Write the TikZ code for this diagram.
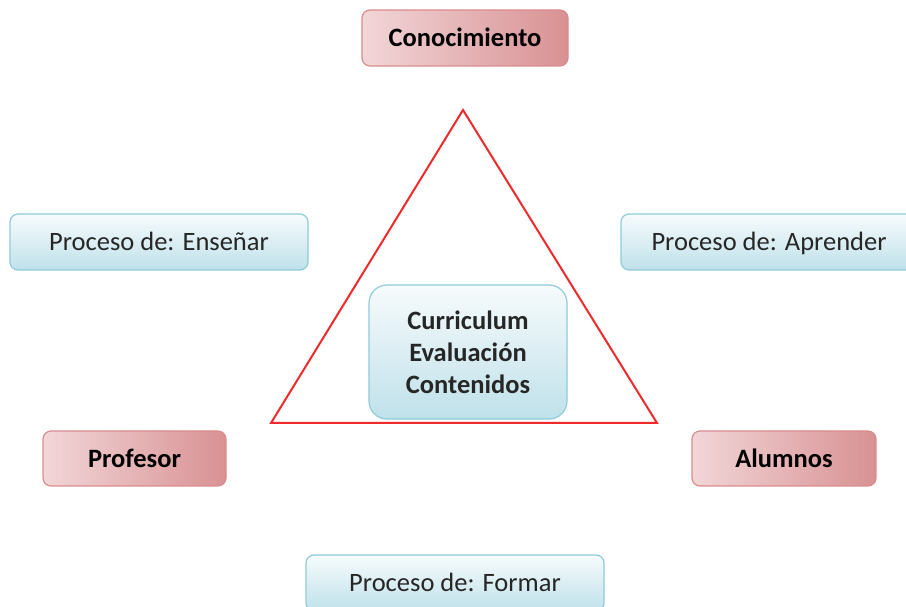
\documentclass[tikz,border=0pt]{standalone}
\usepackage{fontspec}
\setmainfont{Carlito}
\definecolor{redA}{HTML}{F2D6D8}
\definecolor{redB}{HTML}{D89193}
\definecolor{redE}{HTML}{D98C8E}
\definecolor{bluA}{HTML}{F7FBFC}
\definecolor{bluB}{HTML}{BFE1EA}
\definecolor{bluE}{HTML}{8ECBDB}
\definecolor{triR}{HTML}{EE2A2A}
\begin{document}
\begin{tikzpicture}[x=1pt,y=1pt,
  redbox/.style={draw=redE, line width=1.2pt, rounded corners=8pt, left color=redA, right color=redB, inner sep=0pt, text height=19.5pt, text depth=2pt, font=\fontsize{26.5}{31}\selectfont\bfseries, text=black},
  blubox/.style={draw=bluE, line width=1.2pt, rounded corners=8pt, top color=bluA, bottom color=bluB, inner sep=0pt, text height=19.5pt, text depth=2pt, font=\fontsize{26.5}{31}\selectfont, text=black!85},
  tri/.style={draw=triR, line width=2pt, line join=miter}]
\useasboundingbox (0,0) rectangle (906,606);
\clip (0,0) rectangle (906,606);
% red boxes
\node[redbox, minimum width=206pt, minimum height=56pt] (con) at (465,568) {Conocimiento};
\node[redbox, minimum width=183pt, minimum height=55pt] (prof) at (134.5,147.5) {Profesor};
\node[redbox, minimum width=184pt, minimum height=55pt] (alum) at (784,147.5) {Alumnos};
% blue boxes
\node[blubox, minimum width=298pt, minimum height=56pt] (ens) at (159,364) {Proceso de: Enseñar};
\node[blubox, minimum width=296pt, minimum height=56pt] (apr) at (769,364) {Proceso de: Aprender};
\node[blubox, minimum width=298pt, minimum height=56pt] (for) at (455,23) {Proceso de: Formar};
% triangle
\coordinate (ta) at (463,496);
\coordinate (tl) at (271,183);
\coordinate (tr) at (657,183);
\draw[tri] (ta) -- (tl) -- (tr) -- cycle;
% center box
\node[blubox, minimum width=198pt, minimum height=134pt, rounded corners=18pt, text height=, text depth=, font=\fontsize{26.5}{32}\selectfont\bfseries, align=center] (cur) at (468,254) {Curriculum\\Evaluación\\Contenidos};
\end{tikzpicture}
\end{document}
